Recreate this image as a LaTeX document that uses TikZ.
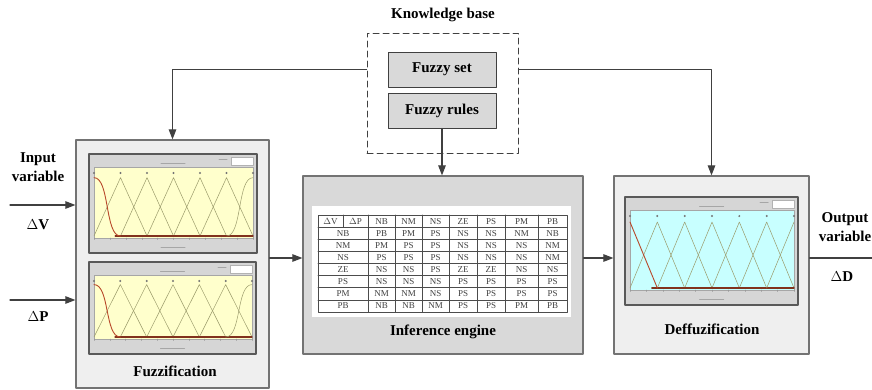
\documentclass[tikz,border=0pt]{standalone}
\usepackage{fontspec}
\setmainfont{Liberation Serif}
\usepackage{tikz}
\usetikzlibrary{arrows.meta,calc,positioning}
\definecolor{boxgray}{HTML}{EFEFEF}
\definecolor{infgray}{HTML}{D9D9D9}
\definecolor{linegray}{HTML}{404040}
\definecolor{mfyellow}{HTML}{FFFFCC}
\definecolor{mfcyan}{HTML}{C8FFFF}
\definecolor{mfred}{HTML}{B8482A}
\definecolor{mfolive}{HTML}{9A9A6A}
\tikzset{
  blockbox/.style={draw=gray!90!black, fill=boxgray, line width=1.2pt},
  setbox/.style={draw=linegray, fill=infgray, line width=1pt, minimum width=108pt, minimum height=35pt},
  lbl/.style={font=\fontsize{15}{19}\selectfont\bfseries, align=center, inner sep=1pt},
  cell/.style={font=\fontsize{9}{9}\selectfont, inner sep=0pt, text=black!75},
  tabgrid/.style={draw=black!70, line width=0.6pt},
  link/.style={draw=linegray, line width=1.1pt, -{Triangle[length=10pt,width=7.5pt]}},
  winframe/.style={draw=black!65, fill=black!16, line width=1.2pt},
  axesbox/.style={draw=black!35, line width=0.4pt},
  blurtxt/.style={draw=black!35, line width=1pt},
  mfline/.style={draw=mfolive, line width=0.5pt},
  mfsel/.style={draw=mfred, line width=0.9pt},
  every picture/.style={line cap=round, line join=round}
}

% membership function window: frame corners, axes fill, 1 = smooth shoulders
\newcommand{\mfplot}[6]{%
  \pgfmathsetmacro{\axl}{#1+5}
  \pgfmathsetmacro{\axr}{#3-4}
  \pgfmathsetmacro{\axt}{#2+13}
  \pgfmathsetmacro{\axb}{#4-15}
  \pgfmathsetmacro{\mfdx}{(\axr-\axl)/6}
  \pgfmathsetmacro{\mfpeak}{\axt+0.15*(\axb-\axt)}
  \pgfmathsetmacro{\mfbase}{\axb-2}
  \draw[winframe] (#1,#2) rectangle (#3,#4);
  \fill[white, draw=black!30, line width=0.3pt] (#3-26,#2+3) rectangle (#3-4,#2+11);
  \draw[blurtxt] (#3-38,#2+5) -- ++(8,0);
  \draw[blurtxt] ({(#1+#3)/2-12},\axt-4) -- ++(24,0);
  \draw[axesbox, fill=#5] (\axl,\axt) rectangle (\axr,\axb);
  \draw[blurtxt] ({(#1+#3)/2-12},#4-6) -- ++(24,0);
  \foreach \i in {0,...,10}
    \draw[black!40, line width=0.3pt] ({\axl+\i*(\axr-\axl)/10},\axb) -- ++(0,1.5);
  \foreach \i in {0,...,6}
    \fill[black!55] ({\axl+\i*\mfdx},\axt+6) circle (1.1pt);
  \foreach \i in {1,...,5}
    \draw[mfline] ({\axl+(\i-1)*\mfdx},\mfbase) -- ({\axl+\i*\mfdx},\mfpeak) -- ({\axl+(\i+1)*\mfdx},\mfbase);
  \draw[mfsel, line width=1.3pt, draw=mfred!70!black] (\axl+0.8*\mfdx,\mfbase) -- (\axr,\mfbase);
  \ifnum#6=1
    \draw[mfsel] (\axl,\mfpeak) .. controls (\axl+0.6*\mfdx,\mfpeak) and (\axl+0.4*\mfdx,\mfbase) .. (\axl+\mfdx,\mfbase);
    \draw[mfline] (\axr-\mfdx,\mfbase) .. controls (\axr-0.4*\mfdx,\mfbase) and (\axr-0.6*\mfdx,\mfpeak) .. (\axr,\mfpeak);
  \else
    \draw[mfsel] (\axl,\mfpeak) -- (\axl+\mfdx,\mfbase);
    \draw[mfline] (\axr-\mfdx,\mfbase) -- (\axr,\mfpeak);
  \fi
}

\begin{document}
\begin{tikzpicture}[x=1pt, y=-1pt]
  \useasboundingbox (0,0) rectangle (872,389);

  % Knowledge base
  \node[lbl] (kbtitle) at (443,15) {Knowledge base};
  \node[draw=linegray, line width=1pt, dash pattern=on 6pt off 4pt,
        minimum width=151pt, minimum height=120pt] (kb) at (442.5,93) {};
  \node[setbox, lbl] (fset) at (442,69.5) {Fuzzy set};
  \node[setbox, lbl] (frules) at (442,110.5) {Fuzzy rules};

  % Fuzzification
  \node[blockbox, minimum width=193pt, minimum height=248pt] (fuzz) at (172.5,264) {};
  \mfplot{89}{154}{257}{253}{mfyellow}{1}
  \mfplot{89}{262}{256}{354}{mfyellow}{1}
  \node[lbl] (fuzzlbl) at (175,371) {Fuzzification};

  % Inference engine
  \node[blockbox, fill=infgray, minimum width=280pt, minimum height=178pt] (infer) at (443,265) {};
  \fill[white] (312,206) rectangle (571,317);
  \draw[tabgrid] (318,215) rectangle (567,312);
  \foreach \r in {1,...,7}
    \draw[tabgrid] (318,215+\r*12.125) -- (567,215+\r*12.125);
  \foreach \x in {368,395,422,449,477,505,538}
    \draw[tabgrid] (\x,215) -- (\x,312);
  \draw[tabgrid] (343,215) -- (343,227.125);
  \node[cell] (hV) at (330.5,221.1) {$\Delta$V};
  \node[cell] (hP) at (355.5,221.1) {$\Delta$P};
  \def\colx{{381.5,408.5,435.5,463,491,521.5,552.5}}
  \foreach \v [count=\c] in {NB,NM,NS,ZE,PS,PM,PB} {
    \pgfmathsetmacro{\cx}{\colx[\c-1]}
    \node[cell] (h-\c) at (\cx,221.1) {\v};
    \node[cell] (r-\c) at (343,221.1+\c*12.125) {\v};
  }
  \foreach \row [count=\r] in {{PB,PM,PS,NS,NS,NM,NB},{PM,PS,PS,NS,NS,NS,NM},
      {PS,PS,PS,NS,NS,NS,NM},{NS,NS,PS,ZE,ZE,NS,NS},{NS,NS,NS,PS,PS,PS,PS},
      {NM,NM,NS,PS,PS,PS,PS},{NB,NB,NM,PS,PS,PM,PB}} {
    \foreach \v [count=\c] in \row {
      \pgfmathsetmacro{\cx}{\colx[\c-1]}
      \node[cell] (t-\r-\c) at (\cx,221.1+\r*12.125) {\v};
    }
  }
  \node[lbl] (inferlbl) at (443,332) {Inference engine};

  % Deffuzification
  \node[blockbox, minimum width=195pt, minimum height=178pt] (defuzz) at (711.5,265) {};
  \mfplot{625}{197}{798}{305}{mfcyan}{0}
  \node[lbl] (defuzzlbl) at (712,329) {Deffuzification};

  % inputs and output
  \node[lbl] (invar) at (38,167) {Input\\variable};
  \node[lbl] (dV) at (38,225) {$\Delta$V};
  \node[lbl] (dP) at (38,317) {$\Delta$P};
  \node[lbl] (outvar) at (845,227) {Output\\variable};
  \node[lbl] (dD) at (842,277) {$\Delta$D};
  \coordinate (inV) at (10,205);
  \coordinate (inP) at (10,300);
  \coordinate (mid) at (0,258);
  \coordinate (out) at (872,258);

  % connectors
  \draw[link] (fset.west -| kb.west) -| (fuzz.north);
  \draw[link] (fset.east -| kb.east) -| (defuzz.north);
  \draw[link] (frules.south) -- (frules.south |- infer.north);
  \draw[link] (inV) -- (inV -| fuzz.west);
  \draw[link] (inP) -- (inP -| fuzz.west);
  \draw[link] (fuzz.east |- mid) -- (infer.west |- mid);
  \draw[link] (infer.east |- mid) -- (defuzz.west |- mid);
  \draw[link, -] (defuzz.east |- mid) -- (out);
\end{tikzpicture}
\end{document}
